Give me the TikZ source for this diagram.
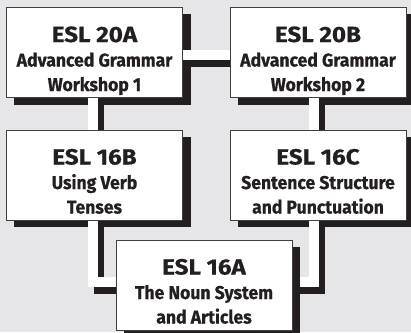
\documentclass[tikz,border=0pt]{standalone}
\usepackage{fontspec}
\setmainfont{Fira Sans}[FakeStretch=0.95,BoldFeatures={FakeBold=0.6}]
\newfontfamily\headfont{Fira Sans}[FakeStretch=1.1,BoldFeatures={FakeBold=0.6}]
\usetikzlibrary{calc}

\pgfdeclarelayer{shade}
\pgfdeclarelayer{link}
\pgfsetlayers{shade,link,main}

\definecolor{paper}{RGB}{230,230,232}
\definecolor{ink}{RGB}{35,31,32}
\definecolor{rim}{RGB}{64,64,64}

\begin{document}
\begin{tikzpicture}[x=1pt,y=-1pt,
  box/.style={draw=rim,line width=0.8pt,fill=white,inner sep=0pt,
    minimum width=176pt,minimum height=90pt,align=center,text=ink,
    font=\bfseries\fontsize{18.5}{24.5}\selectfont},
  link/.style={line width=10pt,white,line join=miter},
  linkshade/.style={line width=10pt,ink,line join=miter}]

\useasboundingbox (0,0) rectangle (411,332);

\node[box] (a20) at (94.5,52.5) {\rule{0pt}{33pt}{\headfont\fontsize{22}{24.5}\selectfont ESL 20A}\\Advanced Grammar\\Workshop 1\rule[-5pt]{0pt}{5pt}};
\node[box] (b20) at (318,52.5) {\rule{0pt}{33pt}{\headfont\fontsize{22}{24.5}\selectfont ESL 20B}\\Advanced Grammar\\Workshop 2\rule[-5pt]{0pt}{5pt}};
\node[box] (b16) at (94.5,175) {\rule{0pt}{33pt}{\headfont\fontsize{22}{24.5}\selectfont ESL 16B}\\Using Verb\\Tenses\rule[-5pt]{0pt}{5pt}};
\node[box] (c16) at (318,175) {\rule{0pt}{33pt}{\headfont\fontsize{22}{24.5}\selectfont ESL 16C}\\Sentence Structure\\and Punctuation\rule[-5pt]{0pt}{5pt}};
\node[box] (a16) at (204,285) {\rule{0pt}{33pt}{\headfont\fontsize{22}{24.5}\selectfont ESL 16A}\\The Noun System\\and Articles\rule[-5pt]{0pt}{5pt}};

\begin{pgfonlayer}{shade}
\fill[paper] (0,0) rectangle (411,332);
\foreach \n in {a20,b20,b16,c16,a16}
  \fill[ink] ([xshift=8pt,yshift=-7pt]\n.north west) rectangle ([xshift=8pt,yshift=-7pt]\n.south east);
\end{pgfonlayer}

\begin{pgfonlayer}{link}
% black edge first, white bar on top
\draw[linkshade] ([xshift=6pt,yshift=-9pt]a20.east) -- ([xshift=6pt,yshift=-9pt]b20.west);
\draw[linkshade] ([xshift=4pt,yshift=-7pt]a20.south) -- ([xshift=4pt,yshift=-7pt]b16.north);
\draw[linkshade] ([xshift=2pt,yshift=-7pt]b20.south) -- ([xshift=2pt,yshift=-7pt]c16.north);
\draw[linkshade] ([xshift=4pt,yshift=-7pt]b16.south) |- ([yshift=-4pt]a16.west);
\draw[linkshade] ([xshift=2pt,yshift=-7pt]c16.south) |- ([xshift=8pt,yshift=-4pt]a16.east);

\draw[link] ([yshift=-2pt]a20.east) -- ([yshift=-2pt]b20.west);
\draw[link] ([xshift=-2pt]a20.south) -- ([xshift=-2pt]b16.north);
\draw[link] ([xshift=-4pt]b20.south) -- ([xshift=-4pt]c16.north);
\draw[link] ([xshift=-2pt]b16.south) |- ([yshift=3pt]a16.west);
\draw[link] ([xshift=-4pt]c16.south) |- ([xshift=8pt,yshift=3pt]a16.east);
%\draw[link] (a16.north) -- (a16.south);
\end{pgfonlayer}

\end{tikzpicture}
\end{document}
